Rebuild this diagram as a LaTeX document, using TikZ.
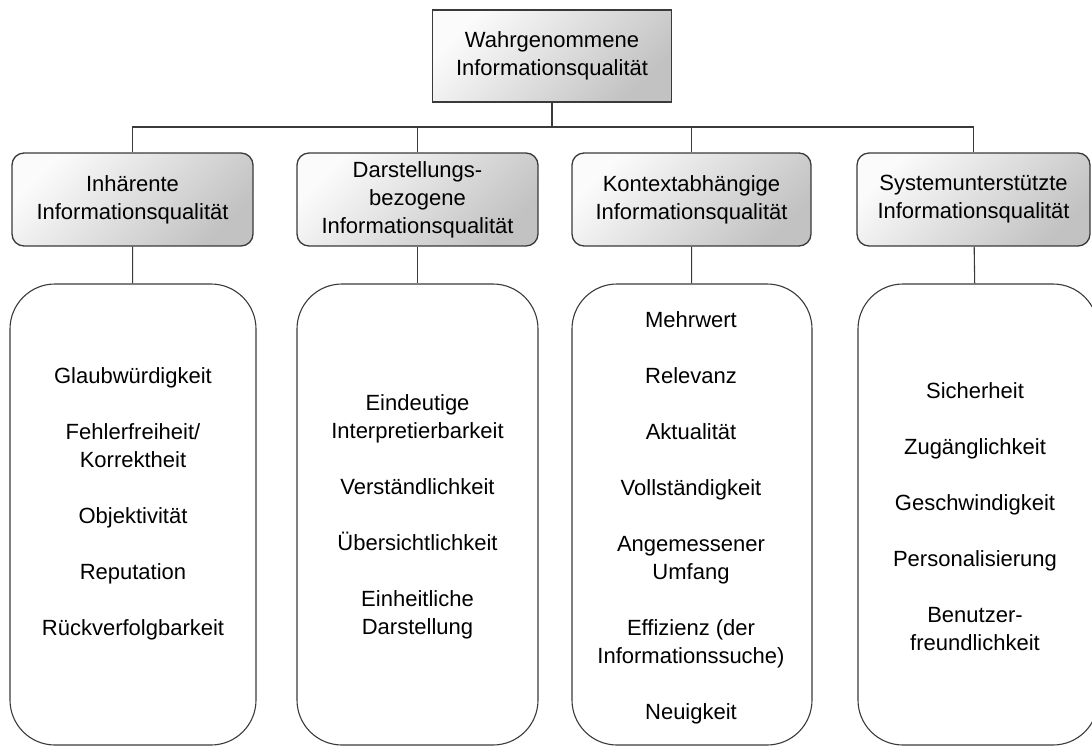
\documentclass[tikz,border=0pt]{standalone}
\usepackage{fontspec}
\setmainfont{Liberation Sans}
\definecolor{ink}{HTML}{3A3A3A}
\definecolor{shadelight}{HTML}{FBFBFB}
\definecolor{shadedark}{HTML}{C2C2C2}

\begin{document}
\begin{tikzpicture}[x=1pt,y=-1pt,font=\fontsize{22}{28}\selectfont,
  topbox/.style={draw=ink,line width=1.3pt,top color=shadelight,bottom color=shadedark,shading angle=45,
    minimum width=239pt,minimum height=92pt,align=center,inner sep=0pt},
  catbox/.style={topbox,rounded corners=12pt,minimum height=93pt},
  listbox/.style={draw=ink,line width=1.1pt,rounded corners=45pt,minimum height=461pt,inner sep=0pt},
  listtext/.style={align=center,inner sep=0pt},
  link/.style={draw=ink,line width=1.3pt}]
  \useasboundingbox (0,0) rectangle (1092,745);
  % top of the hierarchy
  \node[topbox] (top) at (552,56) {Wahrgenommene\\Informationsqualität};
  % the four categories
  \node[catbox,minimum width=241pt] (cat1) at (132.5,199.5) {Inhärente\\Informationsqualität};
  \node[catbox,minimum width=241pt] (cat2) at (417.5,199.5) {Darstellungs-\\bezogene\\Informationsqualität};
  \node[catbox,minimum width=239pt] (cat3) at (691.5,199.5) {Kontextabhängige\\Informationsqualität};
  \node[catbox,minimum width=233pt] (cat4) at (973.5,199.5) {Systemunterstützte\\Informationsqualität};
  % tree lines
  \coordinate (bus) at (552,127);
  \draw[link] (top.south) -- (bus);
  \draw[link] (cat1.north) |- (bus) -| (cat4.north);
  \draw[link] (cat2.north) -- (cat2.north |- bus);
  \draw[link] (cat3.north) -- (cat3.north |- bus);
  % dimension lists
  \node[listbox,minimum width=246pt] (list1) at (133,514.5) {};
  \node[listbox,minimum width=241pt] (list2) at (417.5,514.5) {};
  \node[listbox,minimum width=240pt] (list3) at (692,514.5) {};
  \node[listbox,minimum width=240pt] (list4) at (978,514.5) {};
  \foreach \i in {1,...,4}
    \draw[link,line width=1.1pt] (cat\i) -- (list\i);
  \node[listtext] (items1) at (133,504) {Glaubwürdigkeit\\[28pt]Fehlerfreiheit/\\Korrektheit\\[28pt]Objektivität\\[28pt]Reputation\\[28pt]Rückverfolgbarkeit};
  \node[listtext] (items2) at (417.5,517) {Eindeutige\\Interpretierbarkeit\\[28pt]Verständlichkeit\\[28pt]Übersichtlichkeit\\[28pt]Einheitliche\\Darstellung};
  \node[listtext] (items3) at (691,518) {Mehrwert\\[28pt]Relevanz\\[28pt]Aktualität\\[28pt]Vollständigkeit\\[28pt]Angemessener\\Umfang\\[28pt]Effizienz (der\\Informationssuche)\\[28pt]Neuigkeit};
  \node[listtext] (items4) at (975,516.5) {Sicherheit\\[28pt]Zugänglichkeit\\[28pt]Geschwindigkeit\\[28pt]Personalisierung\\[28pt]Benutzer-\\freundlichkeit};
\end{tikzpicture}
\end{document}
